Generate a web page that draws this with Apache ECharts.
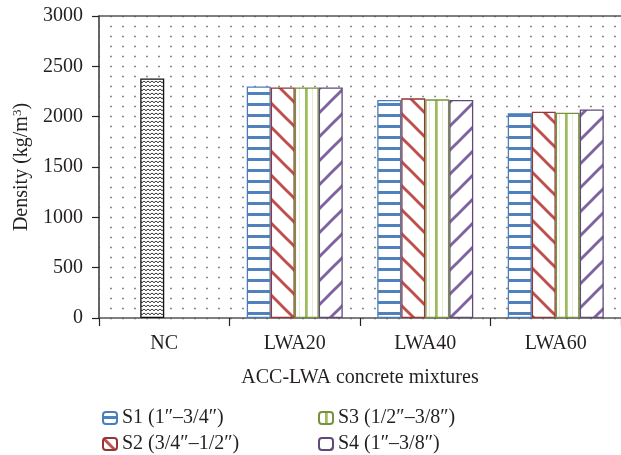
<!DOCTYPE html>
<html>
<head>
<meta charset="utf-8">
<script src="https://cdn.jsdelivr.net/npm/echarts@6/dist/echarts.min.js"></script>
<style>
  html, body { margin: 0; padding: 0; background: #fff; }
  #chart { width: 621px; height: 455px; }
</style>
</head>
<body>
<div id="chart"></div>
<script>
// Density of the mixtures (kg/m3)
const categories = ['NC', 'LWA20', 'LWA40', 'LWA60'];
const ncValues = [2380, '-', '-', '-'];
const s1Values = ['-', 2300, 2165, 2033];
const s2Values = ['-', 2290, 2182, 2049];
const s3Values = ['-', 2290, 2172, 2039];
const s4Values = ['-', 2290, 2165, 2072];
const seriesNames = ['S1 (1\u2033\u20133/4\u2033)', 'S2 (3/4\u2033\u20131/2\u2033)', 'S3 (1/2\u2033\u20133/8\u2033)', 'S4 (1\u2033\u20133/8\u2033)'];
const yMin = 0, yMax = 3000, yStep = 500;

const FONT = 'Liberation Serif';
const TXT = '#231f20';

// Build a repeating canvas fill
function pattern(w, h, draw) {
  const c = document.createElement('canvas');
  c.width = w; c.height = h;
  const g = c.getContext('2d');
  g.fillStyle = '#fff';
  g.fillRect(0, 0, w, h);
  draw(g, w, h);
  return { image: c, repeat: 'repeat' };
}

// horizontal blue bars
const fillS1 = pattern(4, 11, (g, w) => {
  g.fillStyle = '#4f81bd';
  g.fillRect(0, 4, w, 3);
});
// diagonal hatching, dir > 0 gives "\" and dir < 0 gives "/"
function diag(color, dir) {
  const p = 24;
  return pattern(p, p, (g) => {
    g.strokeStyle = color;
    g.lineWidth = 3;
    for (const k of [-p, 0, p]) {
      g.beginPath();
      if (dir > 0) { g.moveTo(k - 3, -3); g.lineTo(k + p + 3, p + 3); }
      else { g.moveTo(k - 3, p + 3); g.lineTo(k + p + 3, -3); }
      g.stroke();
    }
  });
}
const fillS2 = diag('#c0504d', 1);
const fillS4 = diag('#8064a2', -1);
// vertical green stripes
const fillS3 = pattern(13, 4, (g, w, h) => {
  g.fillStyle = '#9bbb59';
  g.fillRect(6, 0, 2.7, h);
  g.fillStyle = '#e3ecd0';
  g.fillRect(0, 0, 1, h);
});
// black zigzag
const fillNC = pattern(4, 4, (g) => {
  g.strokeStyle = '#111';
  g.lineWidth = 1;
  g.beginPath();
  g.moveTo(0, 0.8); g.lineTo(2, 2.8); g.lineTo(4, 0.8);
  g.stroke();
});

function bar(name, data, fill, border, stack) {
  const s = {
    name: name,
    type: 'bar',
    data: data,
    barWidth: 24,
    barGap: '0%',
    itemStyle: { color: fill, borderColor: border, borderWidth: 1.3 },
    emphasis: { disabled: true }
  };
  if (stack) s.stack = stack;
  return s;
}

// one legend box per entry, laid out as two columns
function legendItem(name, left, top, gap) {
  return {
    data: [name],
    left: left, top: top,
    itemWidth: 14, itemHeight: 12, itemTextGap: gap,
    textStyle: { fontFamily: FONT, fontSize: 20, color: TXT }
  };
}

const chart = echarts.init(document.getElementById('chart'), null, { renderer: 'canvas' });
chart.setOption({
  animation: false,
  backgroundColor: '#fff',
  grid: { left: 99, right: 0, top: 16, bottom: 137 },
  legend: [
    legendItem(seriesNames[0], 97, 403, 11),
    legendItem(seriesNames[1], 97, 429, 11),
    legendItem(seriesNames[2], 313, 403, 13),
    legendItem(seriesNames[3], 313, 429, 13)
  ],
  xAxis: [
    {
      type: 'category',
      data: categories,
      name: 'ACC-LWA concrete mixtures',
      nameLocation: 'middle',
      nameGap: 50,
      nameTextStyle: { fontFamily: FONT, fontSize: 20, color: TXT },
      axisLine: { lineStyle: { color: '#555', width: 1.5 } },
      axisTick: { show: true, interval: 0, length: 8, lineStyle: { color: '#222', width: 1.2 } },
      axisLabel: { fontFamily: FONT, fontSize: 20, color: TXT, margin: 16 }
    },
    {
      type: 'category',
      data: categories,
      position: 'top',
      axisLine: { lineStyle: { color: '#555', width: 1.5 } },
      axisTick: { show: false },
      axisLabel: { show: false }
    }
  ],
  yAxis: {
    type: 'value',
    min: yMin, max: yMax, interval: yStep,
    name: '{a|Density (kg/m}{s|3}{a|)}',
    nameLocation: 'middle',
    nameGap: 66,
    nameTextStyle: {
      fontFamily: FONT, fontSize: 20, color: TXT,
      rich: {
        a: { fontFamily: FONT, fontSize: 20, color: TXT },
        s: { fontFamily: FONT, fontSize: 13, color: TXT, padding: [0, 0, 9, 0] }
      }
    },
    axisLine: { show: true, lineStyle: { color: '#333', width: 1.5 } },
    axisTick: { show: true, length: 7, lineStyle: { color: '#222', width: 1.2 } },
    axisLabel: { fontFamily: FONT, fontSize: 20, color: TXT, margin: 16, formatter: (v) => String(v) },
    splitLine: { show: true, lineStyle: { color: '#8a8a8a', width: 1.3, type: [2, 10], dashOffset: 1 } },
    minorTick: { show: false, splitNumber: 5 },
    minorSplitLine: { show: true, lineStyle: { color: '#8a8a8a', width: 1.3, type: [2, 10], dashOffset: 1 } }
  },
  series: [
    bar(seriesNames[0], s1Values, fillS1, '#4a7ebb'),
    bar(seriesNames[1], s2Values, fillS2, '#943634', 'mid'),
    bar('NC', ncValues, fillNC, '#111', 'mid'),
    bar(seriesNames[2], s3Values, fillS3, '#76923c'),
    bar(seriesNames[3], s4Values, fillS4, '#5f497a')
  ]
});
</script>
</body>
</html>
